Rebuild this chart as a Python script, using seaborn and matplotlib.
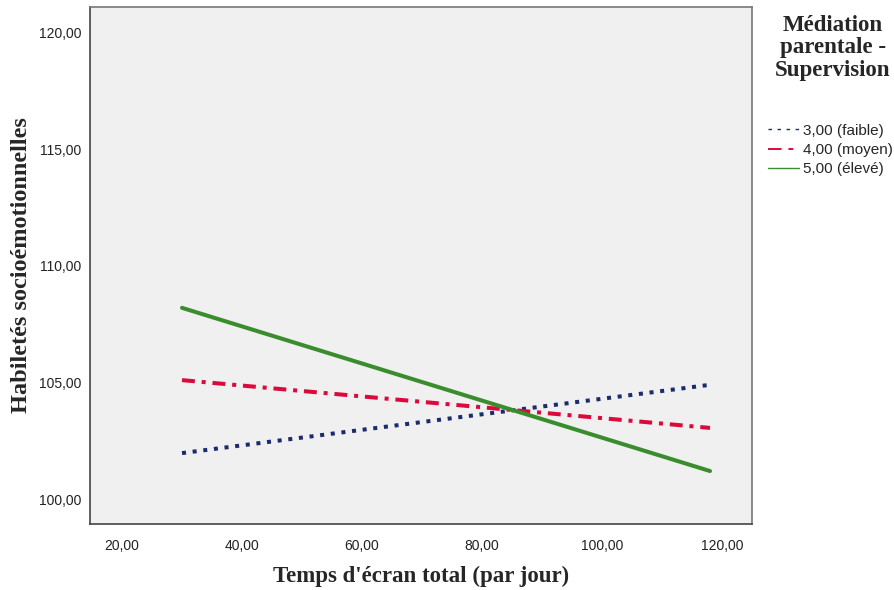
# Simple slopes plot: socio-emotional skills vs screen time, by parental supervision level

import numpy as np
import pandas as pd
import matplotlib
matplotlib.use("Agg")
import matplotlib.pyplot as plt
from matplotlib.lines import Line2D
from matplotlib.ticker import FuncFormatter
import seaborn as sns

# Values
screen_time = [30.0, 118.0]
levels = ["3,00 (faible)", "4,00 (moyen)", "5,00 (élevé)"]
skills_low = [101.97, 104.9]
skills_mid = [105.1, 103.05]
skills_high = [108.2, 101.2]

colors = {levels[0]: "#1c2a6e", levels[1]: "#dc0a3c", levels[2]: "#3a8d2c"}
dashes = {levels[0]: (1.0, 1.66), levels[1]: (3.2, 1.7, 1.0, 1.7), levels[2]: ""}

df = pd.DataFrame({
    "temps": screen_time * 3,
    "habiletes": skills_low + skills_mid + skills_high,
    "supervision": [levels[0]] * 2 + [levels[1]] * 2 + [levels[2]] * 2,
})

sns.set_style("white")
fig = plt.figure(figsize=(8.94, 5.90), dpi=100)
ax = fig.add_axes([0.1007, 0.1119, 0.7405, 0.8761])
ax.set_facecolor("#f0f0f0")

sns.lineplot(data=df, x="temps", y="habiletes", hue="supervision", style="supervision",
             palette=colors, dashes=dashes, linewidth=2.9, legend=False, ax=ax)

ax.set_xlim(14.67, 125.0)
ax.set_ylim(98.93, 121.1)
ax.set_xticks([20, 40, 60, 80, 100, 120])
ax.set_yticks([100, 105, 110, 115, 120])
fmt = FuncFormatter(lambda v, p: f"{v:.2f}".replace(".", ","))
ax.xaxis.set_major_formatter(fmt)
ax.yaxis.set_major_formatter(fmt)
ax.tick_params(length=0, labelsize=10, labelcolor="#222222")
ax.tick_params(axis="x", pad=11)
ax.tick_params(axis="y", pad=6)
for lab in ax.get_xticklabels() + ax.get_yticklabels():
    lab.set_fontfamily("Liberation Sans")

for side, sp in ax.spines.items():
    sp.set_visible(True)
    sp.set_color("#444444" if side in ("left", "bottom") else "#777777")
    sp.set_linewidth(1.2)

ax.set_xlabel("Temps d'écran total (par jour)", fontfamily="Liberation Serif",
              fontweight="bold", fontsize=16.5)
ax.xaxis.set_label_coords(0.5, -0.08)
ax.set_ylabel("Habiletés socioémotionnelles", fontfamily="Liberation Serif",
              fontweight="bold", fontsize=17.5)
ax.yaxis.set_label_coords(-0.088, 0.5)

# legend title drawn as text, thin handles like the original
fig.text(833 / 894, 1 - 48 / 590, "Médiation\nparentale -\nSupervision", ha="center", va="center",
         fontfamily="Liberation Serif", fontweight="bold", fontsize=16.5, linespacing=1.12)
handles = [
    Line2D([], [], color=colors[levels[0]], lw=1, dashes=(2.5, 4)),
    Line2D([], [], color=colors[levels[1]], lw=1.4, dashes=(7, 3.5, 2.5, 3.5)),
    Line2D([], [], color=colors[levels[2]], lw=1),
]
fig.legend(handles, levels, loc="center left", bbox_to_anchor=(768 / 894, 1 - 150 / 590),
           frameon=False, borderpad=0, borderaxespad=0,
           handlelength=2.0, handletextpad=0.3, labelspacing=0.35,
           prop={"family": "Liberation Sans", "size": 11})

fig.savefig("out.png", dpi=100)
